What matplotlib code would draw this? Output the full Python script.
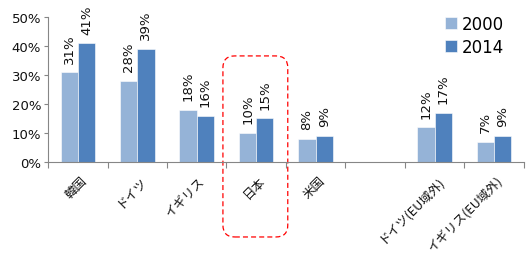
import numpy as np
import matplotlib.pyplot as plt
from matplotlib.patches import FancyBboxPatch

plt.rcParams['font.family'] = ['Noto Sans CJK JP', 'DejaVu Sans']

# data
categories = ["韓国", "ドイツ", "イギリス", "日本", "米国", "", "ドイツ(EU域外)", "イギリス(EU域外)"]
v2000 = [0.31, 0.28, 0.18, 0.10, 0.08, np.nan, 0.12, 0.07]
v2014 = [0.41, 0.39, 0.16, 0.15, 0.09, np.nan, 0.17, 0.09]
lab2000 = ["31%", "28%", "18%", "10%", "8%", "", "12%", "7%"]
lab2014 = ["41%", "39%", "16%", "15%", "9%", "", "17%", "9%"]
series = ["2000", "2014"]
colors = ["#95B3D7", "#4F81BD"]

fig = plt.figure(figsize=(5.3, 2.55), dpi=100)
ax = fig.add_axes([0.0906, 0.361, 0.898, 0.568])

x = np.arange(len(categories))
w = 0.29
b1 = ax.bar(x - w / 2, v2000, w, color=colors[0], label=series[0], edgecolor="white", linewidth=0.4)
b2 = ax.bar(x + w / 2, v2014, w, color=colors[1], label=series[1], edgecolor="white", linewidth=0.4)

for bars, labs in ((b1, lab2000), (b2, lab2014)):
    for rect, lab in zip(bars, labs):
        if not lab:
            continue
        ax.text(rect.get_x() + rect.get_width() / 2, rect.get_height() + 0.033, lab,
                rotation=90, ha="center", va="bottom", fontsize=9.5,
                family="DejaVu Sans", color="#111111")

ax.set_xlim(-0.5, len(categories) - 0.5)
ax.set_ylim(0, 0.5)
ax.set_yticks(np.arange(0, 0.51, 0.1))
ax.set_yticklabels([f"{int(round(t * 100))}%" for t in np.arange(0, 0.51, 0.1)],
                   fontsize=9.5, family="DejaVu Sans", color="#111111")

# category boundary ticks
ax.set_xticks(np.arange(-0.5, len(categories) - 0.4, 1.0))
ax.set_xticklabels([])
ax.tick_params(axis="x", length=4, color="#868686", width=0.8)
ax.tick_params(axis="y", length=3, color="#868686", width=0.8, pad=2)
for i, c in enumerate(categories):
    if c:
        ax.text(i + 0.04, -0.04, c, rotation=45, ha="right", va="top",
                fontsize=9, rotation_mode="anchor", color="#111111")

for s in ("top", "right"):
    ax.spines[s].set_visible(False)
for s in ("left", "bottom"):
    ax.spines[s].set_color("#868686")
    ax.spines[s].set_linewidth(0.8)

leg = ax.legend(loc="upper right", bbox_to_anchor=(0.99, 1.12), frameon=False,
                handlelength=0.7, handleheight=0.7, handletextpad=0.3,
                labelspacing=0.3, prop={"family": "DejaVu Sans", "size": 12})

# red dashed rounded box around 日本
box = FancyBboxPatch((2.44, -0.259), 1.09, 0.625, boxstyle="round,pad=0,rounding_size=0.2",
                     transform=ax.transData, fill=False, edgecolor="#FF0000",
                     linestyle=(0, (4, 2.5)), linewidth=0.9, clip_on=False,
                     mutation_aspect=0.5 / 145 * 59.5)
ax.add_patch(box)

fig.savefig("out.png", dpi=100)
